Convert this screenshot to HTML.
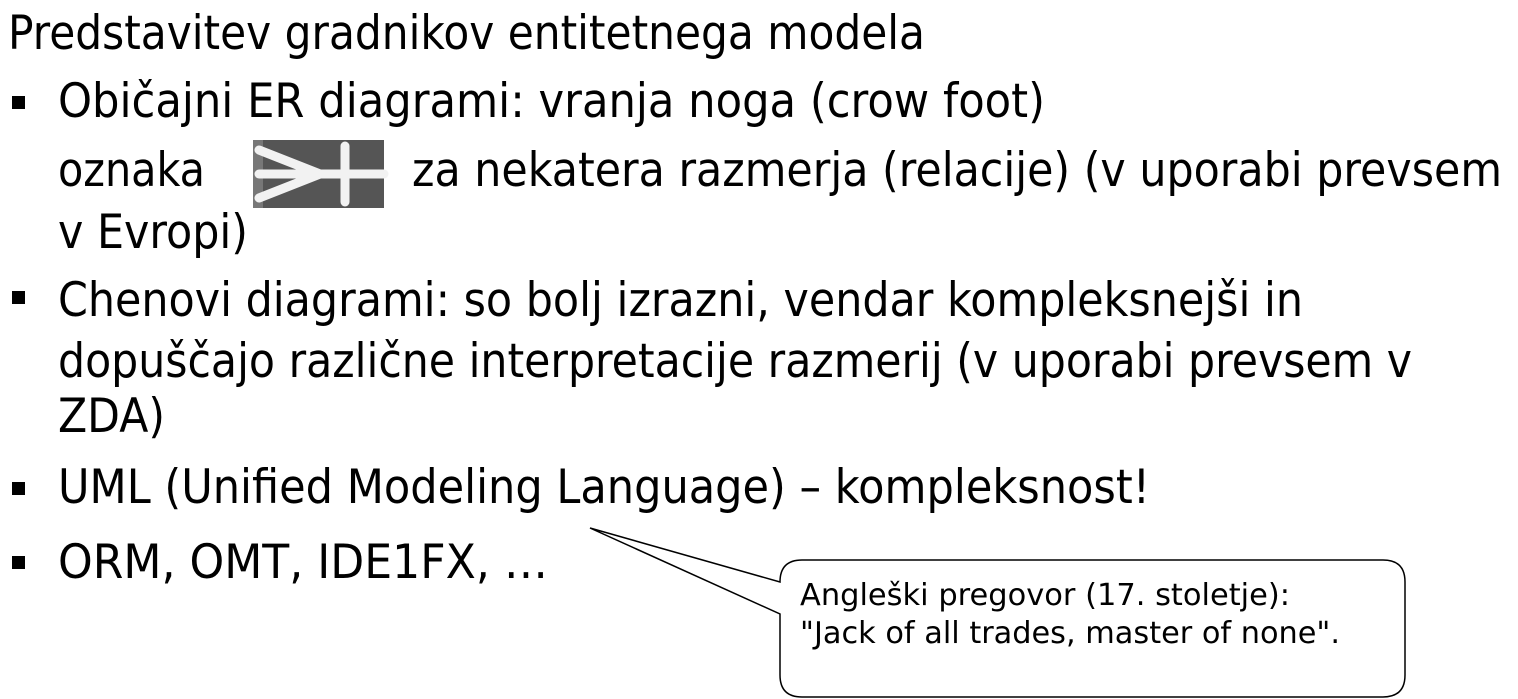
<!DOCTYPE html>
<html><head><meta charset="utf-8"><style>
html,body{margin:0;padding:0;background:#fff;}
svg{display:block;}
text{font-family:"DejaVu Sans","Liberation Sans",sans-serif;fill:#000;}
.c{font-family:"DejaVu Sans Condensed","DejaVu Sans","Liberation Sans",sans-serif;}
</style></head><body>
<svg width="1518" height="699" viewBox="0 0 1518 699" xmlns="http://www.w3.org/2000/svg">
<g font-size="47">
<text x="8" y="49" textLength="917" lengthAdjust="spacingAndGlyphs">Predstavitev gradnikov entitetnega modela</text>
<text x="58" y="117" textLength="987" lengthAdjust="spacingAndGlyphs">Običajni ER diagrami: vranja noga (crow foot)</text>
<text x="58" y="186" textLength="147" lengthAdjust="spacingAndGlyphs">oznaka</text>
<text x="412" y="186" textLength="1090" lengthAdjust="spacingAndGlyphs">za nekatera razmerja (relacije) (v uporabi prevsem</text>
<text x="58" y="248" textLength="190" lengthAdjust="spacingAndGlyphs">v Evropi)</text>
<text x="58" y="316" textLength="1245" lengthAdjust="spacingAndGlyphs">Chenovi diagrami: so bolj izrazni, vendar kompleksnejši in</text>
<text x="58" y="377" textLength="1354" lengthAdjust="spacingAndGlyphs">dopuščajo različne interpretacije razmerij (v uporabi prevsem v</text>
<text x="58" y="432" textLength="107" lengthAdjust="spacingAndGlyphs">ZDA)</text>
<text x="58" y="503" textLength="1092" lengthAdjust="spacingAndGlyphs">UML (Unified Modeling Language) – kompleksnost!</text>
<text x="58" y="578" textLength="490" lengthAdjust="spacingAndGlyphs">ORM, OMT, IDE1FX, …</text>
</g>
<rect x="12" y="96" width="13" height="13"/>
<rect x="12" y="291" width="13" height="13"/>
<rect x="12" y="482" width="13" height="13"/>
<rect x="12" y="556" width="13" height="13"/>
<rect x="253" y="140" width="131" height="68" fill="#555"/>
<rect x="253" y="140" width="10" height="68" fill="#777"/>
<g stroke="#f2f2f2" stroke-width="9" stroke-linecap="round" fill="none">
<line x1="259" y1="150" x2="320" y2="174"/>
<line x1="259" y1="198" x2="320" y2="174"/>
<line x1="259" y1="174" x2="384" y2="174"/>
<line x1="345" y1="146" x2="345" y2="202"/>
</g>
<path d="M802 560 H1383 Q1405 560 1405 582 V675 Q1405 697 1383 697 H802 Q780 697 780 675 V614 L590 528 L780 582 Q780 560 802 560 Z" fill="#fff" stroke="#000" stroke-width="1.5"/>
<g font-size="30" class="c">
<text x="800" y="605" textLength="490" lengthAdjust="spacingAndGlyphs">Angleški pregovor (17. stoletje):</text>
<text x="800" y="643" textLength="540" lengthAdjust="spacingAndGlyphs">"Jack of all trades, master of none".</text>
</g>
</svg>
</body></html>
